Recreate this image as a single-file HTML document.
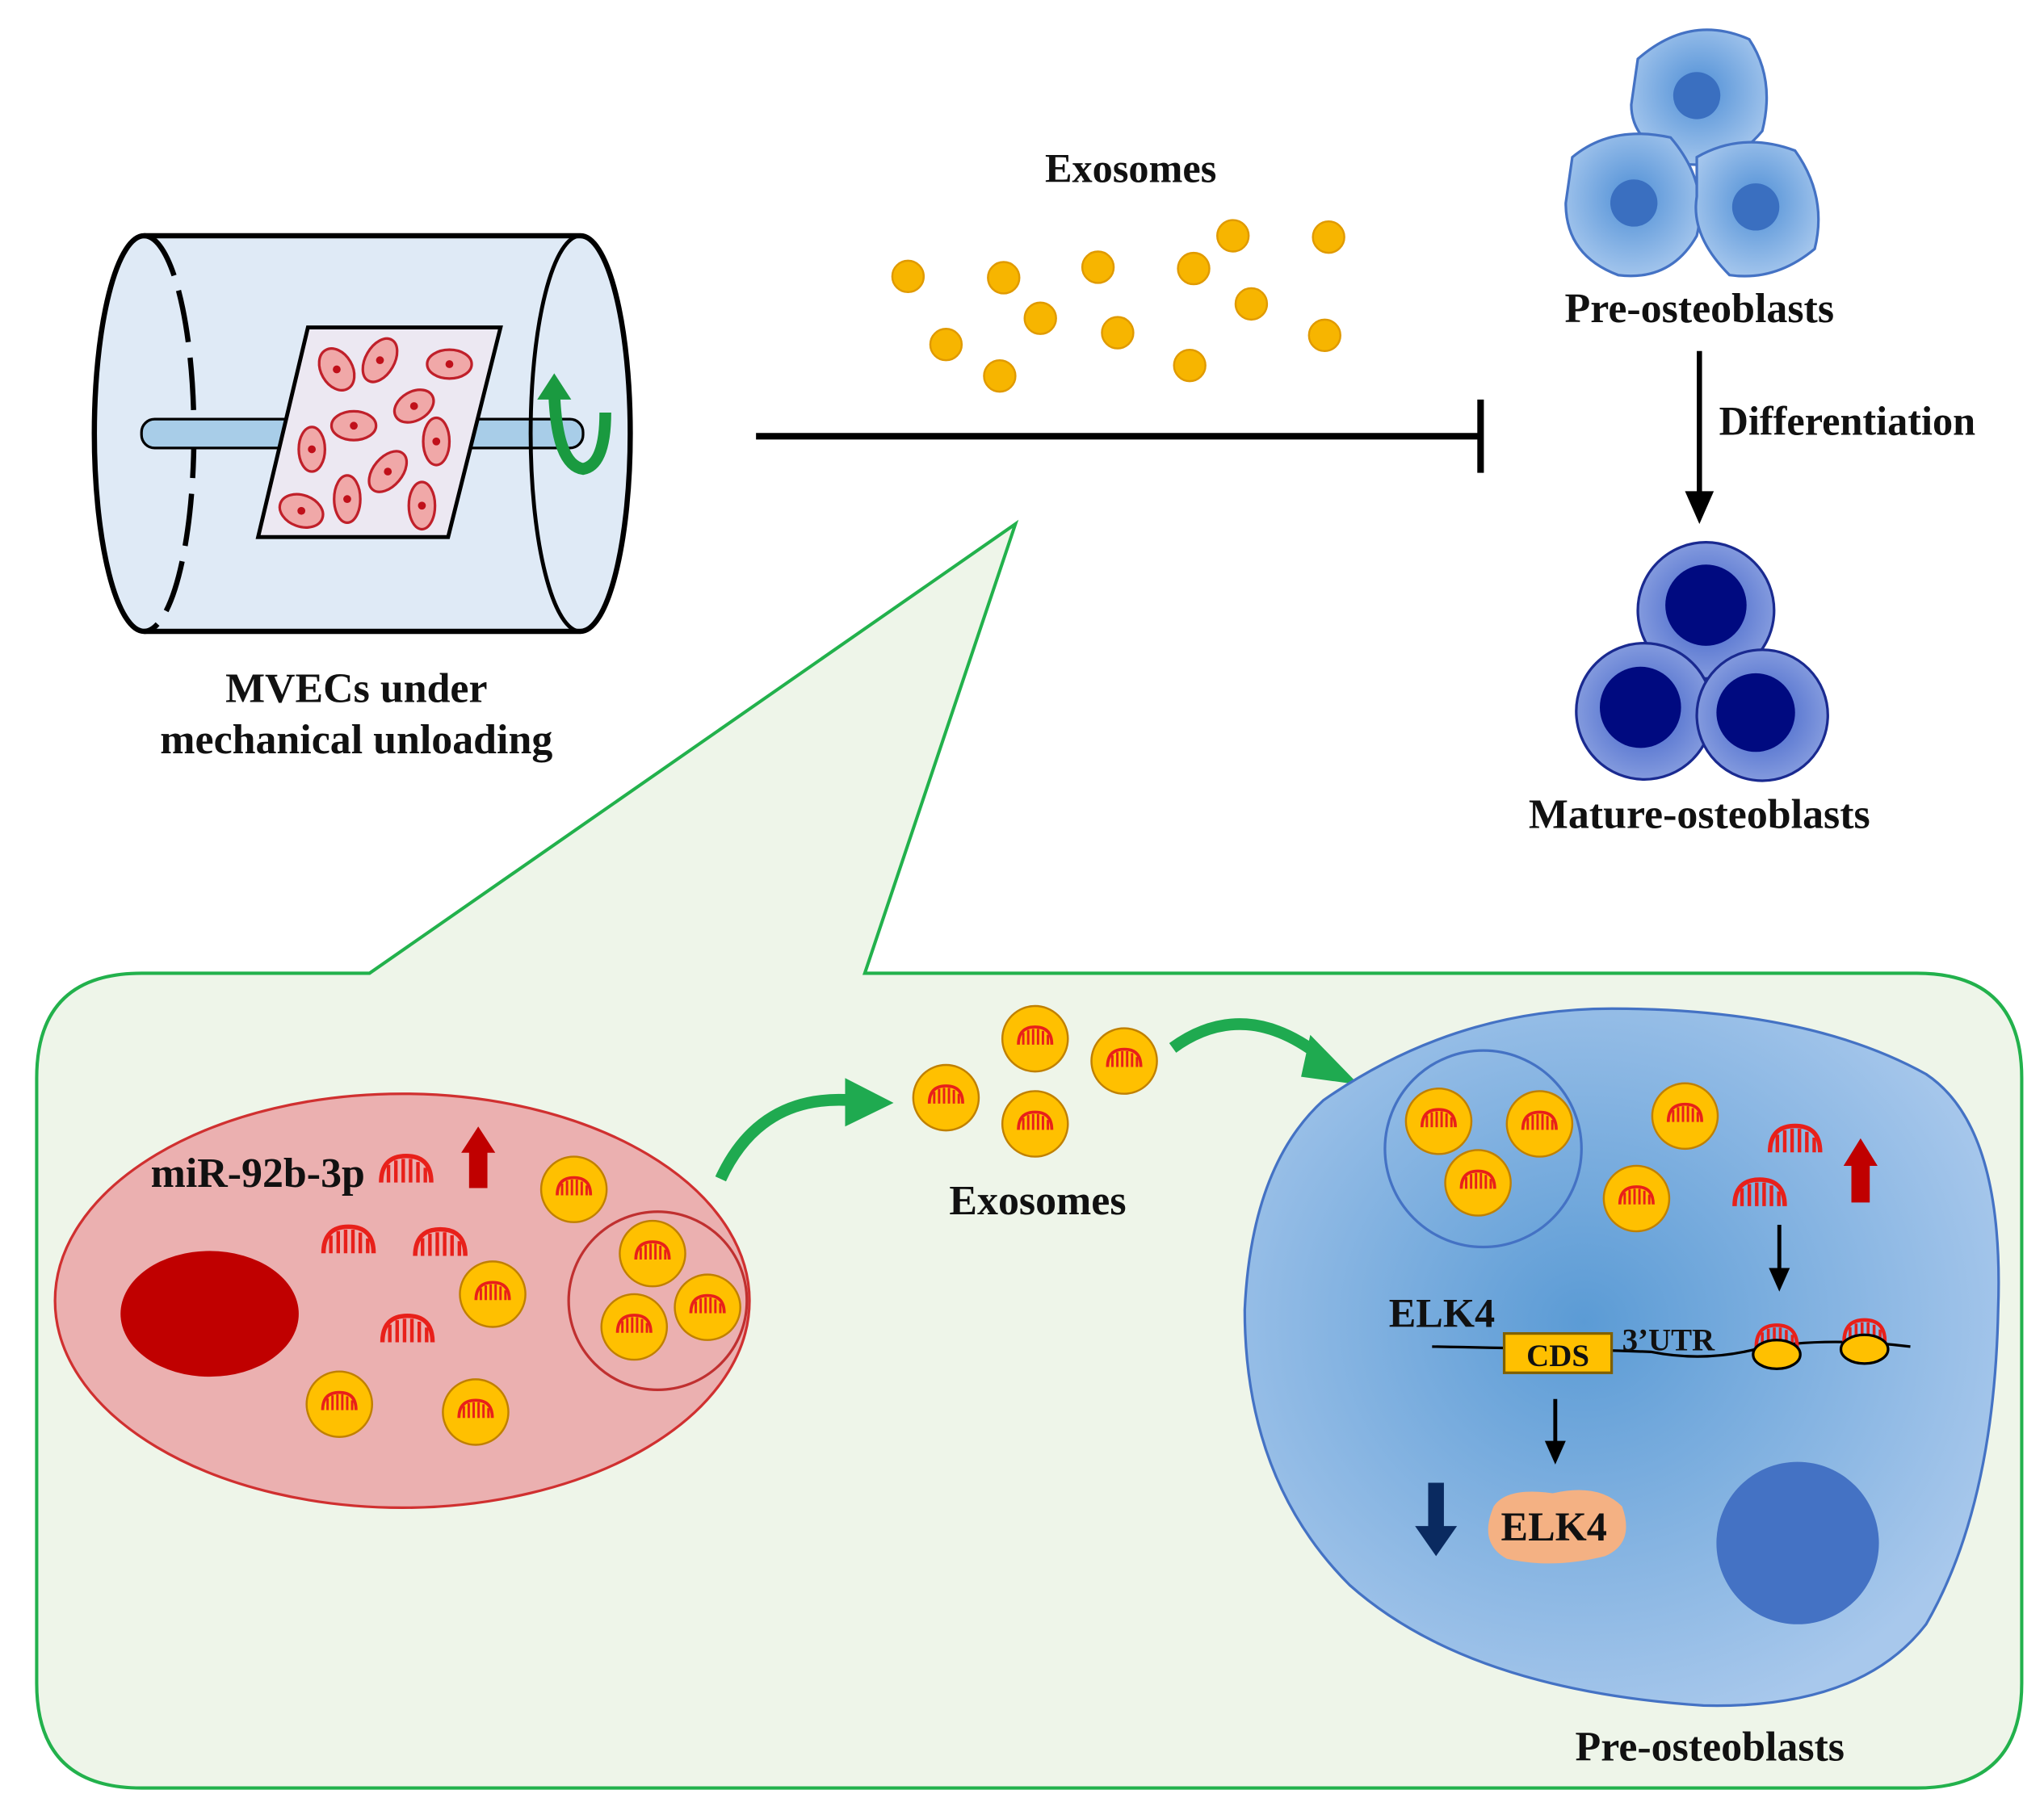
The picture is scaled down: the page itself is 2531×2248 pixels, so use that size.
<!DOCTYPE html>
<html><head><meta charset="utf-8"><style>
html,body{margin:0;padding:0;background:#fff;}
svg{display:block;}
text{font-family:"Liberation Serif",serif;font-weight:bold;fill:#111;}
</style></head><body>
<svg width="2531" height="2248" viewBox="0 0 1560 1385.6" preserveAspectRatio="none" xmlns="http://www.w3.org/2000/svg">
<defs>
<radialGradient id="pre" cx="50%" cy="45%" r="60%"><stop offset="0" stop-color="#4f8fd6"/><stop offset="1" stop-color="#a9c9ee"/></radialGradient>
<radialGradient id="big" cx="45%" cy="45%" r="60%"><stop offset="0" stop-color="#5b9bd5"/><stop offset="1" stop-color="#a8c8ec"/></radialGradient>
<radialGradient id="mat" cx="50%" cy="50%" r="55%"><stop offset="0" stop-color="#3d5fc8"/><stop offset="1" stop-color="#8aa0e0"/></radialGradient>
<symbol id="mi" viewBox="-20 -14 40 24" overflow="visible">
<path d="M-17 8 Q-17 -10 0 -10 Q17 -10 17 8" fill="none" stroke="#e8201a" stroke-width="3"/>
<path d="M-12 8V-4M-7 8V-7M-2 8V-8M3 8V-8M8 8V-6M13 8V-2" stroke="#e8201a" stroke-width="2.4"/>
</symbol>
<g id="exo"><circle r="25" fill="#ffc000" stroke="#c08000" stroke-width="1.5"/><use href="#mi" x="-15" y="-12" width="30" height="18"/></g>
</defs>

<!-- cylinder -->
<path d="M110 180 L443 180 A38 151 0 0 1 443 482 L110 482 A38 151 0 0 1 110 180z" fill="#dfeaf6" stroke="#000" stroke-width="4"/>
<path d="M110 180 A38 151 0 0 1 110 482" fill="none" stroke="#000" stroke-width="4" stroke-dasharray="40 12"/>
<rect x="108" y="320" width="337" height="22" rx="10" fill="#a8cde8" stroke="#000" stroke-width="2"/>
<path d="M443 180 A38 151 0 0 0 443 482" fill="none" stroke="#000" stroke-width="3"/>
<polygon points="235,250 382,250 342,410 197,410" fill="#ece8f2" stroke="#000" stroke-width="3"/>
<g fill="#f0a8a8" stroke="#c0202a" stroke-width="2">
<ellipse cx="257" cy="282" rx="12" ry="17" transform="rotate(-30 257 282)"/>
<ellipse cx="290" cy="275" rx="11" ry="18" transform="rotate(30 290 275)"/>
<ellipse cx="343" cy="278" rx="17" ry="11"/>
<ellipse cx="316" cy="310" rx="16" ry="11" transform="rotate(-30 316 310)"/>
<ellipse cx="270" cy="325" rx="17" ry="11"/>
<ellipse cx="238" cy="343" rx="10" ry="17"/>
<ellipse cx="333" cy="337" rx="10" ry="18"/>
<ellipse cx="296" cy="360" rx="11" ry="18" transform="rotate(40 296 360)"/>
<ellipse cx="230" cy="390" rx="17" ry="12" transform="rotate(20 230 390)"/>
<ellipse cx="265" cy="381" rx="10" ry="18"/>
<ellipse cx="322" cy="386" rx="10" ry="18"/>
</g>
<g fill="#c0101a"><circle cx="257" cy="282" r="3"/><circle cx="290" cy="275" r="3"/><circle cx="343" cy="278" r="3"/><circle cx="316" cy="310" r="3"/><circle cx="270" cy="325" r="3"/><circle cx="238" cy="343" r="3"/><circle cx="333" cy="337" r="3"/><circle cx="296" cy="360" r="3"/><circle cx="230" cy="390" r="3"/><circle cx="265" cy="381" r="3"/><circle cx="322" cy="386" r="3"/></g>
<path d="M423 300 Q425 355 445 358 Q462 355 462 315" fill="none" stroke="#1a9a40" stroke-width="9"/>
<path d="M410 305 L423 285 L436 305z" fill="#1a9a40"/>
<text x="272" y="536" font-size="32" text-anchor="middle">MVECs under</text>
<text x="272" y="575" font-size="32" text-anchor="middle">mechanical unloading</text>

<!-- top exosomes -->
<text x="863" y="139" font-size="31" text-anchor="middle">Exosomes</text>
<g fill="#f7b500" stroke="#e09a00" stroke-width="1.5">
<circle cx="693" cy="211" r="12"/><circle cx="766" cy="212" r="12"/><circle cx="838" cy="204" r="12"/><circle cx="911" cy="205" r="12"/><circle cx="941" cy="180" r="12"/><circle cx="1014" cy="181" r="12"/>
<circle cx="794" cy="243" r="12"/><circle cx="955" cy="232" r="12"/><circle cx="722" cy="263" r="12"/><circle cx="853" cy="254" r="12"/><circle cx="1011" cy="256" r="12"/><circle cx="763" cy="287" r="12"/><circle cx="908" cy="279" r="12"/>
</g>
<line x1="577" y1="333" x2="1130" y2="333" stroke="#000" stroke-width="5"/>
<line x1="1130" y1="305" x2="1130" y2="361" stroke="#000" stroke-width="5"/>

<!-- pre osteoblasts -->
<g stroke="#4472c4" stroke-width="2" fill="url(#pre)">
<path d="M1250 45 Q1290 10 1335 30 Q1355 60 1345 100 Q1320 130 1285 125 Q1245 110 1245 80z"/>
<path d="M1200 120 Q1230 95 1275 105 Q1305 140 1295 180 Q1275 215 1235 210 Q1195 195 1195 155z"/>
<path d="M1295 120 Q1330 100 1370 115 Q1395 150 1385 190 Q1355 215 1320 210 Q1290 180 1295 150z"/>
</g>
<g fill="#3a6fc0"><circle cx="1295" cy="73" r="18"/><circle cx="1247" cy="155" r="18"/><circle cx="1340" cy="158" r="18"/></g>
<text x="1297" y="246" font-size="32" text-anchor="middle">Pre-osteoblasts</text>
<line x1="1297" y1="268" x2="1297" y2="378" stroke="#000" stroke-width="4"/>
<path d="M1286 375 L1308 375 L1297 400z" fill="#000"/>
<text x="1312" y="332" font-size="31">Differentiation</text>
<g stroke="#1a2a90" stroke-width="2" fill="url(#mat)">
<circle cx="1302" cy="466" r="52"/><circle cx="1255" cy="543" r="52"/><circle cx="1345" cy="546" r="50"/>
</g>
<g fill="#000a80"><circle cx="1302" cy="462" r="31"/><circle cx="1252" cy="540" r="31"/><circle cx="1340" cy="544" r="30"/></g>
<text x="1297" y="632" font-size="32" text-anchor="middle">Mature-osteoblasts</text>

<!-- callout -->
<path d="M108 743 L282 743 L775 400 L660 743 L1463 743 Q1543 743 1543 823 L1543 1285 Q1543 1365 1463 1365 L108 1365 Q28 1365 28 1285 L28 823 Q28 743 108 743z" fill="#eef5e9" stroke="#22b14c" stroke-width="2.5"/>

<!-- red cell -->
<ellipse cx="307" cy="993" rx="265" ry="158" fill="#ebb0b0" stroke="#d03030" stroke-width="2"/>
<ellipse cx="160" cy="1003" rx="68" ry="48" fill="#c00000"/>
<circle cx="502" cy="993" r="68" fill="none" stroke="#c03030" stroke-width="2"/>
<text x="115" y="906" font-size="32">miR-92b-3p</text>
<use href="#mi" x="287" y="878" width="46" height="27"/>
<use href="#mi" x="243" y="932" width="46" height="27"/>
<use href="#mi" x="313" y="934" width="46" height="27"/>
<use href="#mi" x="288" y="1000" width="46" height="27"/>
<path d="M358 907 V880 H352 L365 860 L378 880 H372 V907z" fill="#c00000"/>
<use href="#exo" x="438" y="908"/><use href="#exo" x="376" y="988"/><use href="#exo" x="259" y="1072"/><use href="#exo" x="363" y="1078"/>
<use href="#exo" x="498" y="957"/><use href="#exo" x="484" y="1013"/><use href="#exo" x="540" y="998"/>

<!-- green arrows -->
<path d="M550 900 Q580 835 650 840" fill="none" stroke="#1faa50" stroke-width="9"/>
<path d="M645 823 L682 842 L645 860z" fill="#1faa50"/>
<path d="M895 800 Q950 760 1010 808" fill="none" stroke="#1faa50" stroke-width="9"/>
<path d="M1000 790 L1037 828 L993 822z" fill="#1faa50"/>
<use href="#exo" x="790" y="793"/><use href="#exo" x="722" y="838"/><use href="#exo" x="858" y="810"/><use href="#exo" x="790" y="858"/>
<text x="792" y="927" font-size="32" text-anchor="middle">Exosomes</text>

<!-- blue cell -->
<path d="M1010 840 Q1110 770 1230 770 Q1380 770 1470 820 Q1530 860 1525 1000 Q1522 1150 1470 1240 Q1420 1305 1300 1302 Q1120 1290 1030 1210 Q950 1130 950 1000 Q955 890 1010 840z" fill="url(#big)" stroke="#4472c4" stroke-width="2"/>
<circle cx="1372" cy="1178" r="62" fill="#4472c4"/>
<circle cx="1132" cy="877" r="75" fill="none" stroke="#4472c4" stroke-width="2"/>
<use href="#exo" x="1098" y="856"/><use href="#exo" x="1175" y="858"/><use href="#exo" x="1128" y="903"/><use href="#exo" x="1286" y="852"/><use href="#exo" x="1249" y="915"/>
<use href="#mi" x="1347" y="855" width="46" height="27"/>
<use href="#mi" x="1320" y="896" width="46" height="27"/>
<path d="M1413 918 V890 H1407 L1420 869 L1433 890 H1427 V918z" fill="#c00000"/>
<line x1="1358" y1="935" x2="1358" y2="970" stroke="#000" stroke-width="3"/><path d="M1350 968 L1366 968 L1358 986z"/>
<text x="1060" y="1013" font-size="31">ELK4</text>
<path d="M1093 1028 Q1200 1030 1260 1032 Q1300 1040 1340 1030 Q1390 1020 1458 1028" fill="none" stroke="#000" stroke-width="2"/>
<rect x="1148" y="1018" width="82" height="30" fill="#ffc000" stroke="#806000" stroke-width="2"/>
<text x="1189" y="1043" font-size="24" text-anchor="middle">CDS</text>
<text x="1238" y="1031" font-size="24">3’UTR</text>
<use href="#mi" x="1337" y="1008" width="38" height="22"/>
<use href="#mi" x="1404" y="1004" width="38" height="22"/>
<ellipse cx="1356" cy="1034" rx="18" ry="11" fill="#ffc000" stroke="#000" stroke-width="2"/>
<ellipse cx="1423" cy="1030" rx="18" ry="11" fill="#ffc000" stroke="#000" stroke-width="2"/>
<line x1="1187" y1="1068" x2="1187" y2="1102" stroke="#000" stroke-width="3"/><path d="M1179 1100 L1195 1100 L1187 1118z"/>
<path d="M1090 1132 H1102 V1165 H1112 L1096 1188 L1080 1165 H1090z" fill="#0a2a60"/>
<path d="M1140 1150 Q1150 1135 1185 1140 Q1220 1132 1238 1150 Q1248 1178 1225 1188 Q1185 1198 1150 1190 Q1128 1178 1140 1150z" fill="#f4b183"/>
<text x="1186" y="1176" font-size="31" text-anchor="middle">ELK4</text>
<text x="1305" y="1344" font-size="32" text-anchor="middle">Pre-osteoblasts</text>
</svg>
</body></html>
